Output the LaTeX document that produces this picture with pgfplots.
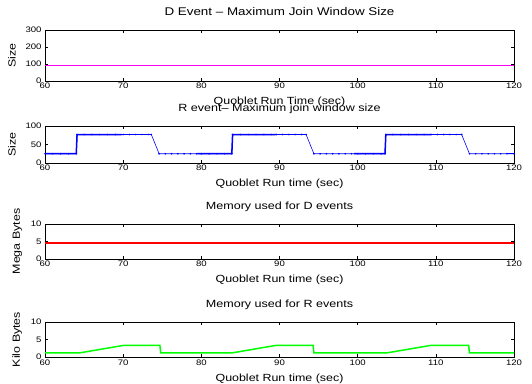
\documentclass[border=0pt]{standalone}
\usepackage{pgfplots}
\pgfplotsset{compat=1.18}
\usepackage{fontspec}
\setmainfont[FakeStretch=1.2]{Liberation Sans}
\definecolor{mymag}{RGB}{255,0,255}
\definecolor{myred}{RGB}{255,0,0}
\definecolor{myblue}{RGB}{0,0,255}
\definecolor{mygreen}{RGB}{0,255,0}
\pgfplotsset{
  every axis/.append style={
    scale only axis, width=469bp, anchor=south west,
    xmin=60, xmax=120, xtick={60,70,...,120},
    tick align=inside, axis line style={line width=0.9pt},
    tick style={black, line width=0.5pt}, major tick length=3pt,
    ticklabel style={font=\fontsize{8}{9}\selectfont},
    label style={font=\fontsize{10.4}{12}\selectfont},
    title style={font=\fontsize{10.5}{12}\selectfont, at={(0.5,1)}, anchor=base, yshift=8.5bp, inner sep=0pt},
    /pgf/number format/assume math mode=true,
    xticklabel style={anchor=base, yshift=-8bp},
    xlabel style={at={(0.5,0)}, anchor=base, yshift=-24bp, inner sep=0pt},
    ylabel style={yshift=3pt},
  }
}
\begin{document}
\begin{tikzpicture}[x=1bp,y=1bp]
\path (0,0) rectangle (532,383);
% Axis 1
\begin{axis}[at={(45bp,302bp)}, height=51bp, ymin=0, ymax=300, ytick={0,100,200,300},
  title style={font=\fontsize{11.2}{12}\selectfont},
  title={D Event -- Maximum Join Window Size}, xlabel={Quoblet Run Time (sec)}, ylabel={Size}]
\addplot[color=mymag, solid, mark=none, line width=1.6pt] coordinates {(60,90) (70,90) (80,90) (90,90) (100,90) (110,90) (120,90)};
\end{axis}
% Axis 2
\begin{axis}[at={(45bp,220bp)}, height=37bp, ymin=0, ymax=100, ytick={0,50,100},
  title={R event-- Maximum join window size}, xlabel={Quoblet Run time (sec)}, ylabel={Size}]
\addplot[myblue, line width=0.6pt, mark=*, mark size=0.5pt] coordinates {
(60,25) (61,25) (62,25) (63,25) (64,25) (64.1,77) (65,77) (66,77) (67,77) (68,77) (69,77) (70,77) (70.8,77) (71.6,77) (72.4,77) (73.2,77) (73.6,77) (74.6,25) (75.4,25) (76.2,25) (77,25) (77.8,25) (78.6,25) (79.4,25) (80,25) (81,25) (82,25) (83,25) (83.9,25)
(84,77) (85,77) (86,77) (87,77) (88,77) (89,77) (89.6,77) (90.4,77) (91.2,77) (92,77) (92.8,77) (93.4,77) (94.4,25) (95.2,25) (96,25) (96.8,25) (97.6,25) (98.4,25) (99.2,25) (100,25) (101,25) (102,25) (103,25) (103.5,25)
(103.6,77) (104.5,77) (105.5,77) (106.5,77) (107.5,77) (108.5,77) (109.4,77) (110.2,77) (111,77) (111.8,77) (112.6,77) (113.3,77) (114.3,25) (115.1,25) (115.9,25) (116.7,25) (117.5,25) (118.3,25) (119.1,25) (120,25)};
\addplot[myblue, line width=1.5pt] coordinates {(60,25) (64,25) (64.1,77) (69.8,77)};
\addplot[myblue, line width=1.5pt] coordinates {(79.5,25) (83.9,25) (84,77) (89.5,77)};
\addplot[myblue, line width=1.5pt] coordinates {(99.5,25) (103.5,25) (103.6,77) (109.4,77)};
\addplot[myblue, line width=1.5pt] coordinates {(119,25) (120,25)};
\end{axis}
% Axis 3
\begin{axis}[at={(45bp,124bp)}, height=35bp, ymin=0, ymax=10, ytick={0,5,10},
  ylabel style={yshift=-1pt},
  title={Memory used for D events}, xlabel={Quoblet Run time (sec)}, ylabel={Mega Bytes}]
\addplot[draw=myred, line width=1.6pt] coordinates {(60,4.5) (70,4.5) (80,4.5) (90,4.5) (100,4.5) (110,4.5) (120,4.5)};
\end{axis}
% Axis 4
\begin{axis}[at={(45bp,26bp)}, height=35bp, ymin=0, ymax=10, ytick={0,5,10},
  ylabel style={yshift=-1pt},
  title={Memory used for R events}, xlabel={Quoblet Run time (sec)}, ylabel={Kilo Bytes}]
\addplot[draw=mygreen, line width=1.5pt] coordinates {
(60,1.2) (64.5,1.2) (70,3.3) (74.7,3.3) (74.8,1.2) (84,1.2) (89.5,3.3) (94.3,3.3) (94.4,1.2)
(103.8,1.2) (109.3,3.3) (114.2,3.3) (114.3,1.2) (120,1.2)};
\end{axis}
\end{tikzpicture}
\end{document}
